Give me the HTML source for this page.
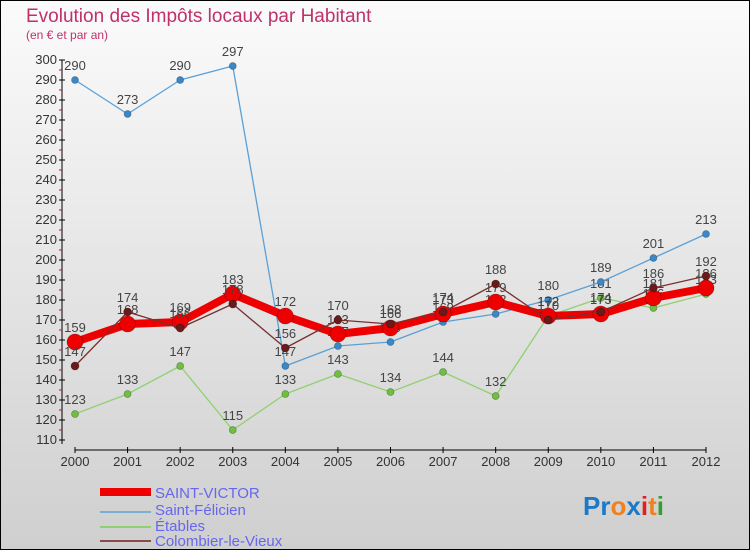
<!DOCTYPE html>
<html><head><meta charset="utf-8"><style>
html,body{margin:0;padding:0}
body{width:750px;height:550px;overflow:hidden;font-family:"Liberation Sans",sans-serif}
</style></head><body>
<svg id="chart" width="750" height="550" xmlns="http://www.w3.org/2000/svg" font-family="Liberation Sans, sans-serif">
<defs><linearGradient id="bg" x1="0" y1="0" x2="0" y2="1"><stop offset="0" stop-color="#fbfbfb"/><stop offset="1" stop-color="#cfcfcf"/></linearGradient></defs>
<rect x="0.5" y="0.5" width="749" height="549" fill="url(#bg)" stroke="#000"/>
<text x="26" y="22" font-size="19" fill="#c0306a" font-weight="normal">Evolution des Impôts locaux par Habitant</text>
<text x="26" y="39" font-size="12" fill="#c0306a">(en € et par an)</text>
<g id="axes"></g><g id="series"></g>
<g font-size="15" fill="#6666ee">
<rect x="100" y="488" width="51" height="8" fill="#e00"/>
<text x="155" y="498">SAINT-VICTOR</text>
<line x1="100" y1="512" x2="151" y2="512" stroke="#7aaed0" stroke-width="2"/>
<text x="155" y="515">Saint-Félicien</text>
<line x1="100" y1="527" x2="151" y2="527" stroke="#90d070" stroke-width="2"/>
<text x="155" y="531">Étables</text>
<line x1="100" y1="541" x2="151" y2="541" stroke="#8a4a4a" stroke-width="2"/>
<text x="155" y="546">Colombier-le-Vieux</text>
</g>
<text x="583" y="515" font-size="26" font-weight="bold"><tspan fill="#1a7ac8">Pr</tspan><tspan fill="#f08020">o</tspan><tspan fill="#1a7ac8">x</tspan><tspan fill="#e02020">i</tspan><tspan fill="#f08020">t</tspan><tspan fill="#30a030">i</tspan></text>
</svg>
<script>
const years=[2000,2001,2002,2003,2004,2005,2006,2007,2008,2009,2010,2011,2012];
const yTicks=[110,120,130,140,150,160,170,180,190,200,210,220,230,240,250,260,270,280,290,300];
const saintVictor=[159,168,169,183,172,163,166,173,179,172,173,181,186];
const saintFelicien=[290,273,290,297,147,157,159,169,173,180,189,201,213];
const etables=[123,133,147,115,133,143,134,144,132,172,181,176,183];
const colombier=[147,174,166,178,156,170,168,174,188,170,174,186,192];
const NS="http://www.w3.org/2000/svg";
function xS(i){return 75+i*(706-75)/(years.length-1);}
function yS(v){return 60+(300-v)*2;}
function mk(tag,attrs,parent){const e=document.createElementNS(NS,tag);for(const k in attrs)e.setAttribute(k,attrs[k]);parent.appendChild(e);return e;}
const axes=document.getElementById('axes');
let a=mk('line',{x1:62,y1:yS(300),x2:62,y2:yS(108),stroke:'#000'},axes);


a=mk('line',{x1:75,y1:450,x2:706,y2:450,stroke:'#000'},axes);


yTicks.forEach(v=>{
 mk('line',{x1:59,y1:yS(v),x2:65,y2:yS(v),stroke:'#000'},axes);
 if(v<300) mk('line',{x1:59,y1:yS(v+5),x2:62,y2:yS(v+5),stroke:'#e00'},axes);
 const t=mk('text',{x:57,y:yS(v)+4,'font-size':13,'text-anchor':'end',fill:'#333'},axes);
 t.textContent=v;
 
 
});
years.forEach((yr,i)=>{
 mk('line',{x1:xS(i),y1:447,x2:xS(i),y2:453,stroke:'#000'},axes);
 const t=mk('text',{x:xS(i),y:466,'font-size':13,'text-anchor':'middle',fill:'#333'},axes);
 t.textContent=yr;
 
 
});
const sg=document.getElementById('series');
function draw(data,name,color,lw,r,ptColor){
 const g=mk('g',{},sg);
 
 
 const pts=data.map((v,i)=>xS(i)+','+yS(v)).join(' ');
 mk('polyline',{points:pts,fill:'none',stroke:color,'stroke-width':lw,'stroke-linejoin':'round'},g);
 data.forEach((v,i)=>{
  const c=mk('circle',{cx:xS(i),cy:yS(v),r:r,fill:ptColor,stroke:'rgba(0,0,0,0.3)','stroke-width':0.8},g);
  
  
  const t=mk('text',{x:xS(i),y:yS(v)-10,'font-size':13,'text-anchor':'middle',fill:'#444'},g);
  t.textContent=v;
  
  
 });
}
draw(etables,'etables','#90d070',1.3,3.5,'#70c040');
draw(saintFelicien,'saint-felicien','#5aa0d8',1.3,3.5,'#3a88c8');
draw(saintVictor,'saint-victor','#ee0000',8,8,'#ee0000');
draw(colombier,'colombier-le-vieux','#7a3030',1.3,4,'#6a1a1a');
</script>
</body></html>
